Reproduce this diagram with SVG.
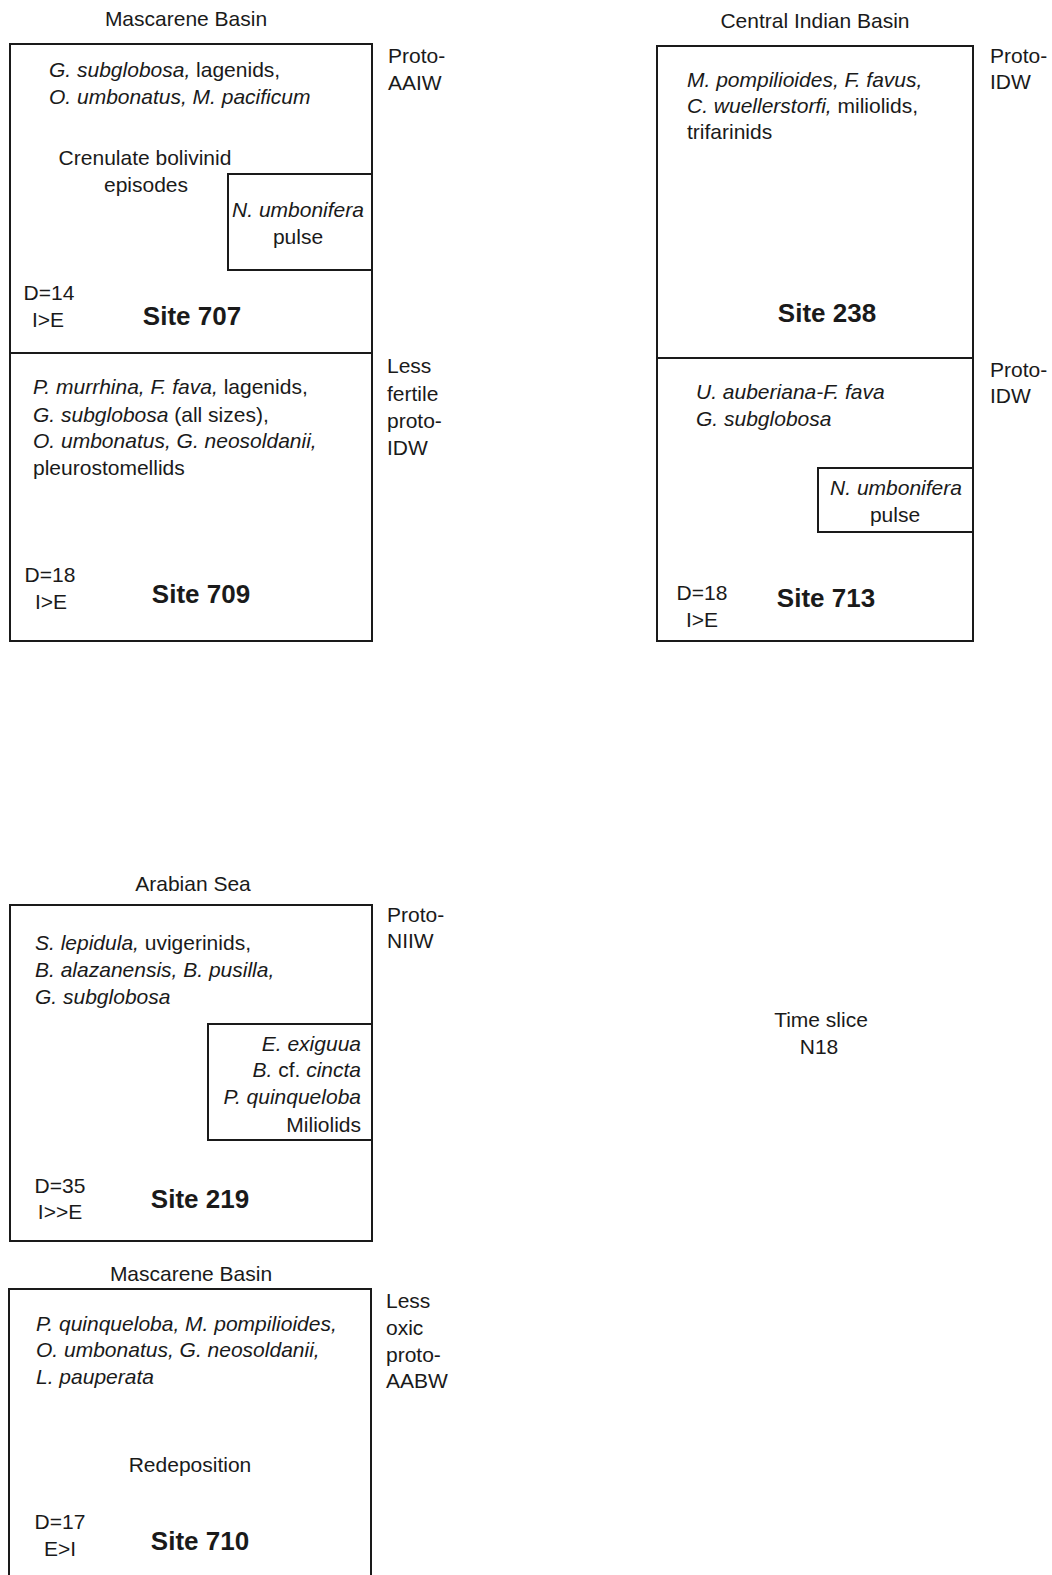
<svg xmlns="http://www.w3.org/2000/svg" width="1052" height="1575" viewBox="0 0 1052 1575">
<style>
text{font-family:"Liberation Sans",Arial,sans-serif;font-size:21px;fill:#1a1a1a}
.i{font-style:italic}
.c{text-anchor:middle}
.r{text-anchor:end}
.b{font-weight:bold;font-size:26px}
.box{fill:none;stroke:#1a1a1a;stroke-width:2}
</style>
<rect width="1052" height="1575" fill="#fff"/>
<g id="connectors"/>
<g id="site707">
<text class="c" x="186" y="26">Mascarene Basin</text>
<rect class="box" x="10" y="44" width="362" height="309"/>
<text x="49" y="77"><tspan class="i">G. subglobosa,</tspan> lagenids,</text>
<text x="49" y="104" class="i">O. umbonatus, M. pacificum</text>
<text class="c" x="145" y="165">Crenulate bolivinid</text>
<text class="c" x="146" y="192">episodes</text>
<text x="388" y="63">Proto-</text>
<text x="388" y="90">AAIW</text>
<text class="c" x="49" y="300">D=14</text>
<text class="c" x="48" y="327">I&gt;E</text>
<text class="b c" x="192" y="325">Site 707</text>
</g>
<g id="pulse707">
<rect class="box" x="228" y="174" width="144" height="96"/>
<text class="c i" x="298" y="217">N. umbonifera</text>
<text class="c" x="298" y="244">pulse</text>
</g>
<g id="site709">
<rect class="box" x="10" y="353" width="362" height="288"/>
<text x="33" y="394"><tspan class="i">P. murrhina, F. fava,</tspan> lagenids,</text>
<text x="33" y="422"><tspan class="i">G. subglobosa</tspan> (all sizes),</text>
<text x="33" y="448" class="i">O. umbonatus, G. neosoldanii,</text>
<text x="33" y="475">pleurostomellids</text>
<text x="387" y="373">Less</text>
<text x="387" y="401">fertile</text>
<text x="387" y="428">proto-</text>
<text x="387" y="455">IDW</text>
<text class="c" x="50" y="582">D=18</text>
<text class="c" x="51" y="609">I&gt;E</text>
<text class="b c" x="201" y="603">Site 709</text>
</g>
<g id="site238">
<text class="c" x="815" y="28">Central Indian Basin</text>
<rect class="box" x="657" y="46" width="316" height="312"/>
<text x="687" y="87" class="i">M. pompilioides, F. favus,</text>
<text x="687" y="113"><tspan class="i">C. wuellerstorfi,</tspan> miliolids,</text>
<text x="687" y="139">trifarinids</text>
<text x="990" y="63">Proto-</text>
<text x="990" y="89">IDW</text>
<text class="b c" x="827" y="322">Site 238</text>
</g>
<g id="site713">
<rect class="box" x="657" y="358" width="316" height="283"/>
<text x="696" y="399" class="i">U. auberiana-F. fava</text>
<text x="696" y="426" class="i">G. subglobosa</text>
<text x="990" y="377">Proto-</text>
<text x="990" y="403">IDW</text>
<text class="c" x="702" y="600">D=18</text>
<text class="c" x="702" y="627">I&gt;E</text>
<text class="b c" x="826" y="607">Site 713</text>
</g>
<g id="pulse713">
<rect class="box" x="818" y="468" width="155" height="64"/>
<text class="c i" x="896" y="495">N. umbonifera</text>
<text class="c" x="895" y="522">pulse</text>
</g>
<g id="site219">
<text class="c" x="193" y="891">Arabian Sea</text>
<rect class="box" x="10" y="905" width="362" height="336"/>
<text x="35" y="950"><tspan class="i">S. lepidula,</tspan> uvigerinids,</text>
<text x="35" y="977" class="i">B. alazanensis, B. pusilla,</text>
<text x="35" y="1004" class="i">G. subglobosa</text>
<text x="387" y="922">Proto-</text>
<text x="387" y="948">NIIW</text>
<text class="c" x="60" y="1193">D=35</text>
<text class="c" x="60" y="1219">I&gt;&gt;E</text>
<text class="b c" x="200" y="1208">Site 219</text>
</g>
<g id="assemblage219">
<rect class="box" x="208" y="1024" width="164" height="116"/>
<text class="r i" x="361" y="1051">E. exiguua</text>
<text class="r" x="361" y="1077"><tspan class="i">B.</tspan> cf. <tspan class="i">cincta</tspan></text>
<text class="r i" x="361" y="1104">P. quinqueloba</text>
<text class="r" x="361" y="1132">Miliolids</text>
</g>
<g id="site710">
<text class="c" x="191" y="1281">Mascarene Basin</text>
<path class="box" d="M9,1580 V1289 H371 V1580"/>
<text x="36" y="1331" class="i">P. quinqueloba, M. pompilioides,</text>
<text x="36" y="1357" class="i">O. umbonatus, G. neosoldanii,</text>
<text x="36" y="1384" class="i">L. pauperata</text>
<text class="c" x="190" y="1472">Redeposition</text>
<text x="386" y="1308">Less</text>
<text x="386" y="1335">oxic</text>
<text x="386" y="1362">proto-</text>
<text x="386" y="1388">AABW</text>
<text class="c" x="60" y="1529">D=17</text>
<text class="c" x="60" y="1556">E&gt;I</text>
<text class="b c" x="200" y="1550">Site 710</text>
</g>
<g id="timeslice">
<text class="c" x="821" y="1027">Time slice</text>
<text class="c" x="819" y="1054">N18</text>
</g>
</svg>
